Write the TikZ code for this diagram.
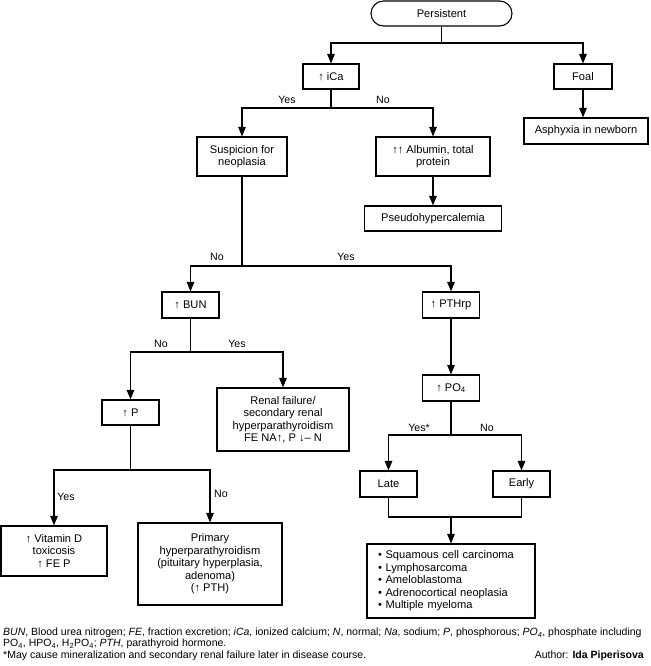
\documentclass[tikz,border=0pt]{standalone}
\usepackage{fontspec}
\setmainfont{Liberation Sans}
\usetikzlibrary{arrows.meta}
\tikzset{
  box/.style={draw, line width=1.1pt, inner sep=0pt, align=center,
    font=\fontsize{11.1}{12.5}\selectfont},
  lbl/.style={inner sep=0pt, font=\fontsize{10.6}{12}\selectfont},
  foot/.style={inner sep=0pt, anchor=west, font=\fontsize{10.5}{11}\selectfont},
  conn/.style={line width=1.1pt},
  arr/.style={line width=1.1pt, -{Triangle[length=9.5pt,width=7.5pt]}}
}
\begin{document}
\begin{tikzpicture}[x=1pt,y=-1pt]
\useasboundingbox (0,0) rectangle (650,666);
% nodes
\node[box, rounded corners=12.5pt, minimum width=141pt, minimum height=25pt] (pers) at (441.5,13.5) {Persistent};
\node[box, minimum width=56pt, minimum height=25pt] (ica) at (331,76.5) {↑ iCa};
\node[box, minimum width=58pt, minimum height=25pt] (foal) at (583,76.5) {Foal};
\node[box, minimum width=124pt, minimum height=26pt] (asph) at (586,131) {Asphyxia in newborn};
\node[box, minimum width=90pt, minimum height=39pt] (susp) at (242,156.5) {Suspicion for\\neoplasia};
\node[box, minimum width=114pt, minimum height=39pt] (alb) at (433,156.5) {↑↑ Albumin, total\\protein};
\node[box, minimum width=137pt, minimum height=25pt] (pseudo) at (433,218.5) {Pseudohypercalemia};
\node[box, minimum width=57pt, minimum height=26pt] (bun) at (190.5,305) {↑ BUN};
\node[box, minimum width=57pt, minimum height=26pt] (pthrp) at (451,305) {↑ PTHrp};
\node[box, minimum width=57pt, minimum height=25pt] (p) at (130.5,412.5) {↑ P};
\node[box, minimum width=132pt, minimum height=63pt] (renal) at (283,419.5) {Renal failure/\\secondary renal\\hyperparathyroidism\\FE NA↑, P ↓– N};
\node[box, minimum width=57pt, minimum height=26pt] (po4) at (451,388) {↑ PO\textsubscript{4}};
\node[box, minimum width=57pt, minimum height=26pt] (late) at (388.5,484) {Late};
\node[box, minimum width=57pt, minimum height=26pt] (early) at (521.5,484) {Early};
\node[box, minimum width=168pt, minimum height=74pt, align=left, text width=146pt] (list) at (451,581)
  {• Squamous cell carcinoma\\• Lymphosarcoma\\• Ameloblastoma\\• Adrenocortical neoplasia\\• Multiple myeloma};
\node[box, minimum width=106pt, minimum height=50pt] (vitd) at (54,551) {↑ Vitamin D\\toxicosis\\↑ FE P};
\node[box, minimum width=144pt, minimum height=82pt] (prim) at (210,564) {Primary\\hyperparathyroidism\\(pituitary hyperplasia,\\adenoma)\\(↑ PTH)};
% junctions
\coordinate (j1) at (441.5,43);
\coordinate (j2) at (331,108);
\coordinate (j3) at (242,266);
\coordinate (j4) at (190.5,352);
\coordinate (j5) at (451,435);
\coordinate (j6) at (130.5,470);
\coordinate (j7) at (451,517);
% connectors
\draw[conn] (pers) -- (j1);
\draw[arr] (j1) -| (ica);
\draw[arr] (j1) -| (foal);
\draw[arr] (foal) -- (foal.south |- asph.north);
\draw[conn] (ica) -- (j2);
\draw[arr] (j2) -| (susp);
\draw[arr] (j2) -| (alb);
\draw[arr] (alb) -- (pseudo);
\draw[conn] (susp) -- (j3);
\draw[arr] (j3) -| (bun);
\draw[arr] (j3) -| (pthrp);
\draw[conn] (bun) -- (j4);
\draw[arr] (j4) -| (p);
\draw[arr] (j4) -| (renal);
\draw[arr] (pthrp) -- (po4);
\draw[conn] (po4) -- (j5);
\draw[arr] (j5) -| (late);
\draw[arr] (j5) -| (early);
\draw[conn] (late) |- (j7);
\draw[conn] (early) |- (j7);
\draw[arr] (j7) -- (list);
\draw[conn] (p) -- (j6);
\draw[arr] (j6) -| (vitd);
\draw[arr] (j6) -| (prim);
% labels
\node[lbl] (l1) at (287,100) {Yes};
\node[lbl] (l2) at (383,100) {No};
\node[lbl] (l3) at (217,257) {No};
\node[lbl] (l4) at (346,257) {Yes};
\node[lbl] (l5) at (161,344) {No};
\node[lbl] (l6) at (237,344) {Yes};
\node[lbl] (l7) at (419,428) {Yes*};
\node[lbl] (l8) at (487,428) {No};
\node[lbl] (l9) at (66,497) {Yes};
\node[lbl] (l10) at (221,494) {No};
% footer
\node[foot] (f1) at (3,633) {\textit{BUN}, Blood urea nitrogen; \textit{FE}, fraction excretion; \textit{iCa}, ionized calcium; \textit{N}, normal; \textit{Na}, sodium; \textit{P}, phosphorous; \textit{PO\textsubscript{4}}, phosphate including};
\node[foot] (f2) at (3,644) {PO\textsubscript{4}, HPO\textsubscript{4}, H\textsubscript{2}PO\textsubscript{4}; \textit{PTH}, parathyroid hormone.};
\node[foot] (f3) at (3,656) {*May cause mineralization and secondary renal failure later in disease course.};
\node[foot, anchor=east] (f4) at (644,656) {Author: \textbf{Ida Piperisova}};
\end{tikzpicture}
\end{document}
